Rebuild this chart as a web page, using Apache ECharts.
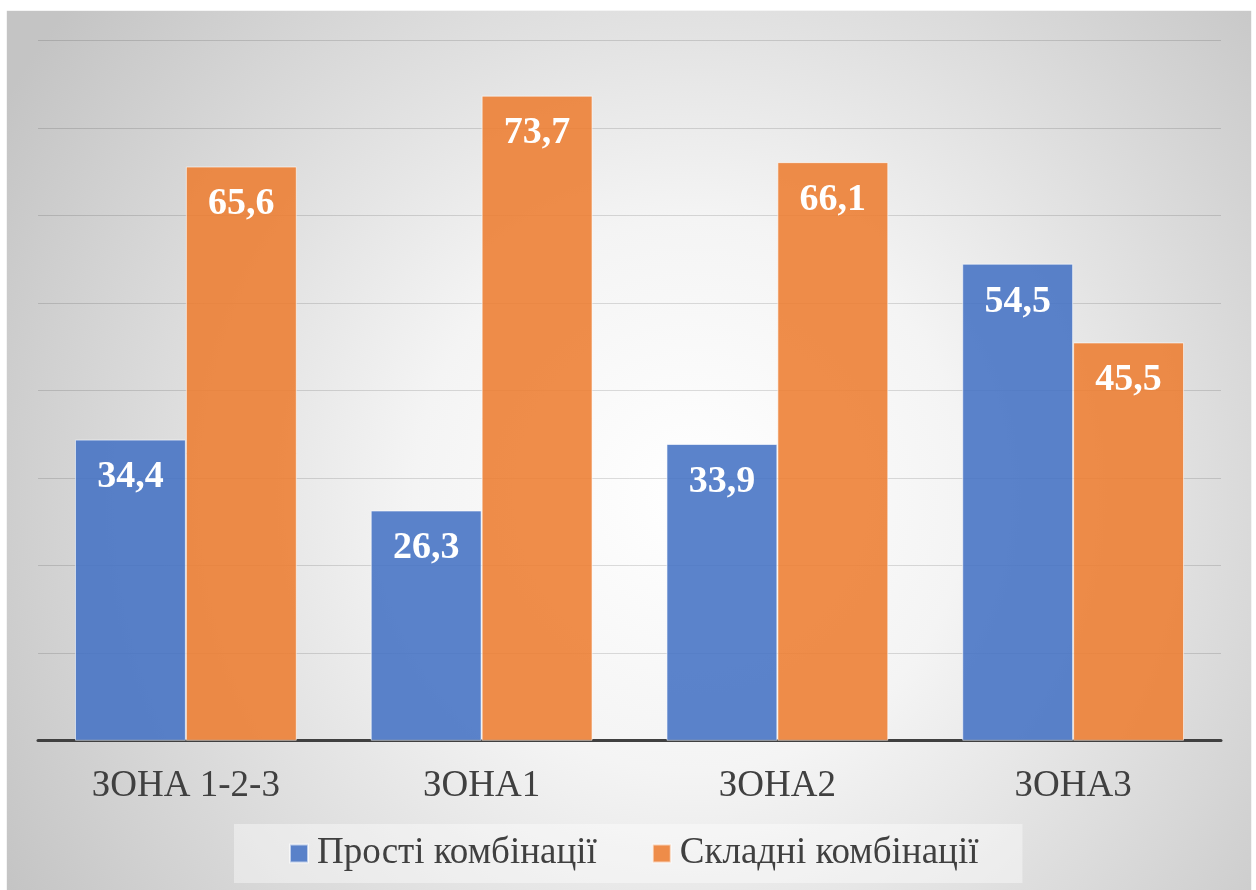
<!DOCTYPE html>
<html>
<head>
<meta charset="utf-8">
<script src="https://cdn.jsdelivr.net/npm/echarts@6/dist/echarts.min.js"></script>
<style>
html,body{margin:0;padding:0;background:#ffffff;width:1256px;height:890px;overflow:hidden;}
#chart{position:absolute;left:7px;top:11px;width:1244px;height:879px;box-shadow:0 0 1px rgba(0,0,0,0.25);}
</style>
</head>
<body>
<div id="chart"></div>
<script>
const categories = ['ЗОНА 1-2-3', 'ЗОНА1', 'ЗОНА2', 'ЗОНА3'];
const seriesNames = ['Прості комбінації', 'Складні комбінації'];
const simpleValues = [34.4, 26.3, 33.9, 54.5];
const complexValues = [65.6, 73.7, 66.1, 45.5];
const yMin = 0, yMax = 80, yInterval = 10;

const chart = echarts.init(document.getElementById('chart'), null, {renderer: 'canvas'});
const serif = '"Liberation Serif", "Times New Roman", serif';
const labelFmt = p => String(p.value).replace('.', ',');
const barLabel = {
  show: true,
  position: 'insideTop',
  distance: 19,
  formatter: labelFmt,
  color: '#ffffff',
  fontFamily: serif,
  fontWeight: 'bold',
  fontSize: 38
};
chart.setOption({
  backgroundColor: {
    type: 'radial', x: 0.55, y: 0.55, r: 0.9,
    colorStops: [
      {offset: 0, color: '#ffffff'},
      {offset: 0.35, color: '#f4f4f4'},
      {offset: 1, color: '#c4c4c4'}
    ]
  },
  animation: false,
  grid: {left: 31, right: 30, top: 29.5, bottom: 149.3, containLabel: false},
  legend: {
    data: seriesNames,
    left: 227, top: 813,
    icon: 'rect',
    itemWidth: 18, itemHeight: 18,
    itemGap: 55,
    padding: [11, 44, 11, 55],
    backgroundColor: 'rgba(255,255,255,0.4)',
    textStyle: {fontFamily: serif, fontSize: 37, color: '#404040', padding: [0, 0, 0, 4]}
  },
  xAxis: {
    type: 'category',
    data: categories,
    axisLine: {lineStyle: {color: '#404040', width: 3}},
    axisTick: {show: false},
    axisLabel: {fontFamily: serif, fontSize: 37, color: '#404040', margin: 27},
    splitLine: {show: false}
  },
  yAxis: {
    type: 'value',
    min: yMin, max: yMax, interval: yInterval,
    axisLine: {show: false},
    axisTick: {show: false},
    axisLabel: {show: false},
    splitLine: {lineStyle: {color: 'rgba(0,0,0,0.13)', width: 1}}
  },
  series: [
    {
      name: seriesNames[0], type: 'bar', data: simpleValues,
      barGap: '0%', barCategoryGap: '25%',
      itemStyle: {color: 'rgba(68,114,196,0.88)', borderColor: 'rgba(255,255,255,0.6)', borderWidth: 1},
      label: barLabel
    },
    {
      name: seriesNames[1], type: 'bar', data: complexValues,
      barGap: '0%', barCategoryGap: '25%',
      itemStyle: {color: 'rgba(237,125,49,0.88)', borderColor: 'rgba(255,255,255,0.6)', borderWidth: 1},
      label: barLabel
    }
  ]
});
</script>
</body>
</html>
